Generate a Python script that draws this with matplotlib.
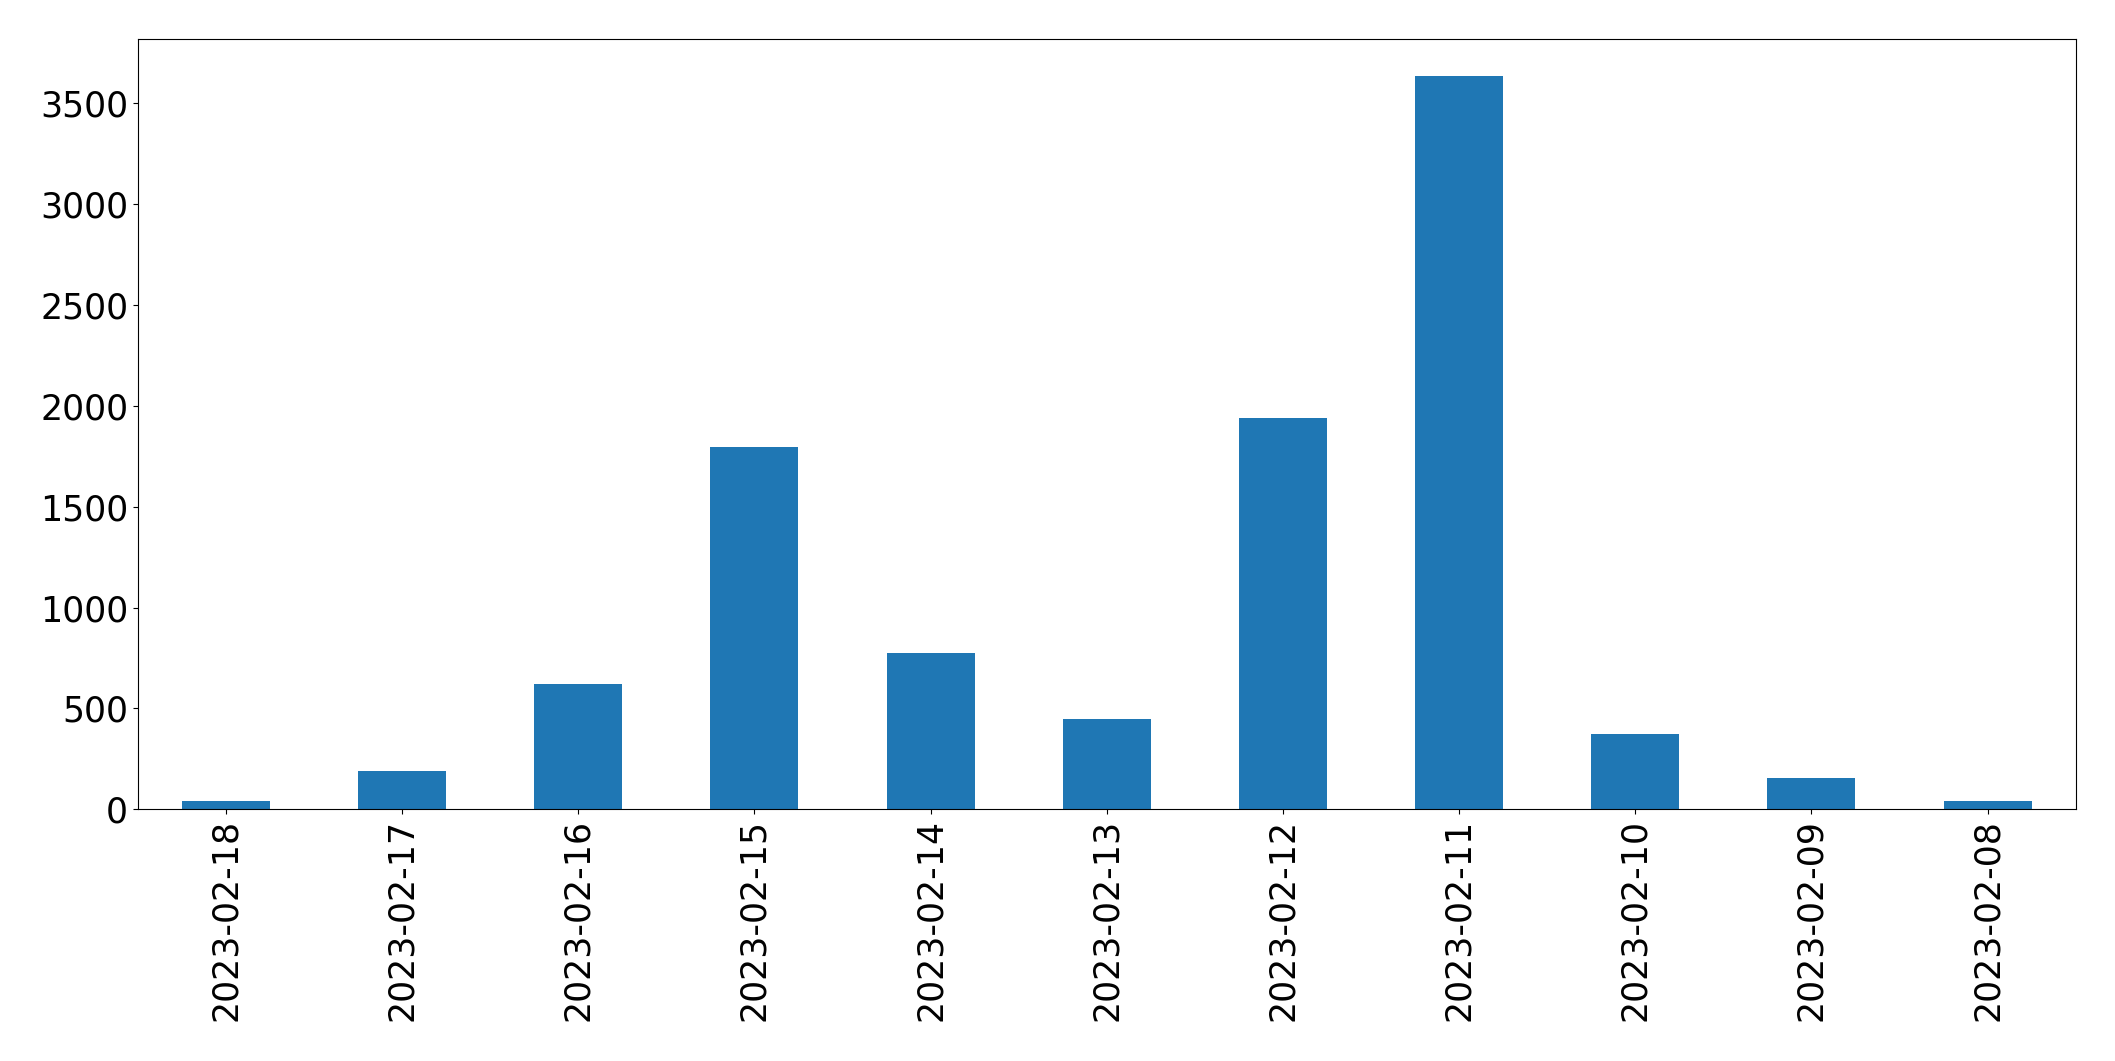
import matplotlib
matplotlib.use('Agg')
import matplotlib.pyplot as plt
import numpy as np

dates = ['2023-02-18', '2023-02-17', '2023-02-16', '2023-02-15', '2023-02-14',
         '2023-02-13', '2023-02-12', '2023-02-11', '2023-02-10', '2023-02-09',
         '2023-02-08']
counts = [41, 190, 620, 1794, 774, 447, 1942, 3637, 373, 155, 41]

fig = plt.figure(figsize=(21.15, 10.61), dpi=100)
ax = fig.add_axes([0.0652, 0.2372, 0.9162, 0.726])

x = np.arange(len(dates))
ax.bar(x, counts, width=0.5, color='#1f77b4')
ax.set_xlim(-0.5, len(dates) - 0.5)
ax.set_xticks(x)
ax.set_xticklabels(dates, rotation=90)
ax.tick_params(axis='both', labelsize=25)

fig.savefig('out.png', dpi=100)
